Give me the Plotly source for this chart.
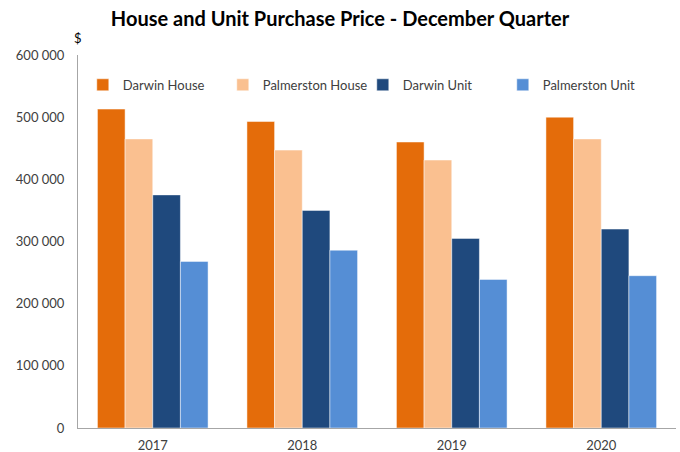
import plotly.graph_objects as go

years = ["2017", "2018", "2019", "2020"]
darwin_house = [513000, 493000, 460000, 500000]
palmerston_house = [465000, 447000, 431000, 465000]
darwin_unit = [375000, 350000, 305000, 320000]
palmerston_unit = [268000, 286000, 239000, 245000]

series = [
    ("Darwin House", darwin_house, "#E46C0A"),
    ("Palmerston House", palmerston_house, "#FAC090"),
    ("Darwin Unit", darwin_unit, "#1F497D"),
    ("Palmerston Unit", palmerston_unit, "#558ED5"),
]

fig = go.Figure()
for name, vals, color in series:
    fig.add_trace(go.Bar(
        x=years, y=vals, name=name,
        marker=dict(color=color, line=dict(color="rgba(255,255,255,0.6)", width=0.8)),
    ))

fig.update_layout(
    width=680, height=452,
    margin=dict(l=78, r=4, t=55, b=24, autoexpand=False),
    paper_bgcolor="white", plot_bgcolor="white",
    font=dict(family="Lato", size=13, color="#404040"),
    title=dict(text="<b>House and Unit Purchase Price - December Quarter</b>",
               x=0.5, xref="container", xanchor="center", y=0.958, yref="container", yanchor="middle",
               font=dict(family="Lato", size=20, color="#000000")),
    barmode="group", bargap=0.26, bargroupgap=0,
    separators=". ",
    showlegend=True,
    legend=dict(orientation="h", x=0.008, xanchor="left", y=0.92, yanchor="middle",
                entrywidth=95, entrywidthmode="pixels", itemwidth=30,
                font=dict(family="Lato", size=13, color="#404040"),
                bgcolor="rgba(0,0,0,0)", traceorder="normal"),
    annotations=[dict(text="$", xref="paper", yref="paper", x=0, y=1.018,
                      xanchor="center", yanchor="bottom", showarrow=False,
                      font=dict(family="Lato", size=13, color="#000000"))],
)
fig.update_yaxes(range=[0, 600000], tickvals=[0, 100000, 200000, 300000, 400000, 500000, 600000],
                 tickformat=",d", showgrid=False, zeroline=False, automargin=False,
                 showline=True, linecolor="#A6A6A6", linewidth=1, ticks="", ticklabelstandoff=10)
fig.update_xaxes(showgrid=False, showline=True, linecolor="#A6A6A6", linewidth=1, ticks="",
                 automargin=False, ticklabelstandoff=5)

fig.write_html("out.html", config={"displayModeBar": False})

with open("out.html", "r", encoding="utf-8") as f:
    html = f.read()
html = html.replace("<head>", "<head><style>html,body{margin:0;padding:0;overflow:hidden;}</style>", 1)
with open("out.html", "w", encoding="utf-8") as f:
    f.write(html)
